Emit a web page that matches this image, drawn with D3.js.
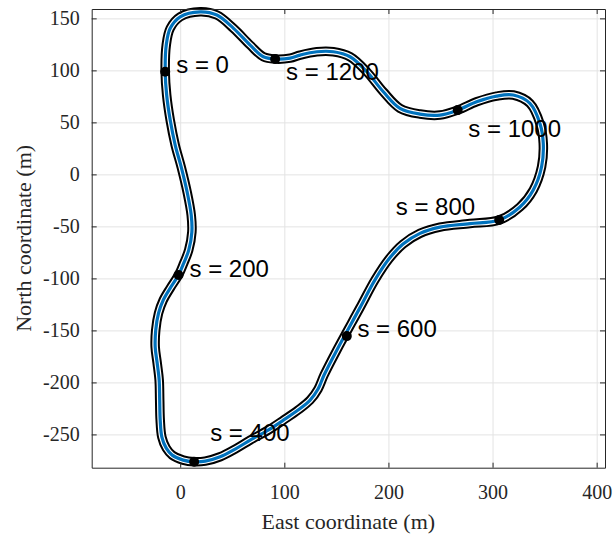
<!DOCTYPE html>
<html>
<head>
<meta charset="utf-8">
<script src="https://cdn.jsdelivr.net/npm/d3@7"></script>
<style>
  body { margin: 0; background: #fff; }
  .tick text { font-family: "Liberation Serif", serif; font-size: 20px; fill: #262626; }
  .axis path, .axis line { stroke: #262626; }
  .grid line { stroke: #e3e3e3; }
  .grid path { display: none; }
</style>
</head>
<body>
<svg id="chart" width="613" height="536"></svg>
<script>
// Track centreline (east, north) in metres, starting at s = 0
const east = [-14.4, -13, -9.6, -4.8, 1, 6.7, 10.6, 11.2, 8.2, 3.4, -1.6, -9.6, -16.3, -20.8, -23.5, -24, -22.1, -20.2, -19.7, -19.2, -17.6, -13.4, -7.7, 2.9, 13.4, 24, 38.4, 52.8, 67.2, 84.5, 99.1, 113.2, 124.8, 132.4, 138.2, 150.4, 172.7, 187.1, 200.6, 214, 230.3, 249.5, 278.3, 306.4, 326.3, 339.1, 347.1, 348.7, 345.5, 335.9, 319.9, 303.9, 284.7, 266.5, 249.5, 230.3, 211.1, 195.1, 179.2, 163.1, 147.1, 131.2, 115.2, 105.6, 91.2, 79.9, 67.2, 51.2, 35.2, 19.2, 0, -9.6, -13.4];
const north = [98.7, 76.3, 52.2, 28.2, 7.0, -17.1, -39.2, -55.5, -72.8, -85.3, -96.8, -109.4, -120.9, -133.4, -149.7, -166.1, -181.4, -197.8, -217, -236.3, -252.6, -263.2, -269.9, -274.7, -276.3, -275.7, -271.5, -264.1, -255.5, -245.9, -236.3, -226.6, -217, -206.4, -192.9, -169, -128.1, -101.4, -81.2, -67, -56.7, -50.7, -47.3, -43.9, -31.4, -15.1, 7.3, 29.8, 49, 68.3, 76.3, 75.3, 69.8, 61.8, 57, 58, 63.5, 79.4, 98.7, 113.1, 117.9, 117.9, 114.7, 111.8, 110.9, 113.1, 124.3, 140.4, 153.2, 156.3, 151.5, 140.4, 124.3];

// Distance markers along the track
const markerS = [0, 200, 400, 600, 800, 1000, 1200];
const markerEast = [-14.4, -1.6, 13.4, 160, 306.4, 266.5, 91.2];
const markerNorth = [98.7, -96.8, -276.3, -155.5, -43.9, 61.8, 110.9];
// where each label sits (left edge, baseline)
const labelEast = [-3.8, 8.9, 28.8, 170.2, 207, 276.7, 101.7];
const labelNorth = [97.4, -99, -256.4, -156.2, -39.1, 35.6, 90.7];

const xTicks = [0, 100, 200, 300, 400];
const yTicks = [-250, -200, -150, -100, -50, 0, 50, 100, 150];

const svg = d3.select("#chart");
const margin = {left: 91.7, right: 8, top: 9, bottom: 68.3};
const width = 613 - margin.left - margin.right;
const height = 536 - margin.top - margin.bottom;

const x = d3.scaleLinear().domain([-85, 408]).range([0, width]);
const y = d3.scaleLinear().domain([-282, 159]).range([height, 0]);

const g = svg.append("g").attr("transform", `translate(${margin.left},${margin.top})`);

// grid
g.append("g").attr("class", "grid")
    .attr("transform", `translate(0,${height})`)
    .call(d3.axisBottom(x).tickValues(xTicks).tickSize(-height).tickFormat(""));
g.append("g").attr("class", "grid")
    .call(d3.axisLeft(y).tickValues(yTicks).tickSize(-width).tickFormat(""));

// track: black borders, white surface, blue line
const pts = east.map((e, i) => [e, north[i]]);
const line = d3.line()
    .x(d => x(d[0]))
    .y(d => y(d[1]))
    .curve(d3.curveCatmullRomClosed);

g.append("path").datum(pts).attr("d", line)
    .attr("fill", "none").attr("stroke", "black").attr("stroke-width", 9.5);
g.append("path").datum(pts).attr("d", line)
    .attr("fill", "none").attr("stroke", "white").attr("stroke-width", 5.5);
g.append("path").datum(pts).attr("d", line)
    .attr("fill", "none").attr("stroke", "#0072BD").attr("stroke-width", 3.2);

// markers and labels
g.selectAll("circle.mark")
    .data(markerS)
    .enter()
    .append("circle")
    .attr("class", "mark")
    .attr("cx", (d, i) => x(markerEast[i]))
    .attr("cy", (d, i) => y(markerNorth[i]))
    .attr("r", 5)
    .attr("fill", "black");

g.selectAll("text.lab")
    .data(markerS)
    .enter()
    .append("text")
    .attr("class", "lab")
    .attr("x", (d, i) => x(labelEast[i]))
    .attr("y", (d, i) => y(labelNorth[i]))
    .attr("font-family", "Liberation Sans, Arial, sans-serif")
    .attr("font-size", 24)
    .attr("fill", "black")
    .text(d => "s = " + d);

// axes (ticks point inward, box on)
const fmt = d => String(d);
g.append("g").attr("class", "axis")
    .attr("transform", `translate(0,${height})`)
    .call(d3.axisBottom(x).tickValues(xTicks).tickFormat(fmt).tickSize(-5).tickSizeOuter(0).tickPadding(17));
g.append("g").attr("class", "axis")
    .call(d3.axisLeft(y).tickValues(yTicks).tickFormat(fmt).tickSize(-5).tickSizeOuter(0).tickPadding(12));
g.append("g").attr("class", "axis")
    .call(d3.axisTop(x).tickValues(xTicks).tickSize(-5).tickSizeOuter(0).tickFormat(""));
g.append("g").attr("class", "axis")
    .attr("transform", `translate(${width},0)`)
    .call(d3.axisRight(y).tickValues(yTicks).tickSize(-5).tickSizeOuter(0).tickFormat(""));

// axis titles
svg.append("text")
    .attr("x", margin.left + width / 2)
    .attr("y", 529)
    .attr("text-anchor", "middle")
    .attr("font-family", "Liberation Serif, serif")
    .attr("font-size", 22)
    .attr("fill", "#262626")
    .text("East coordinate (m)");

svg.append("text")
    .attr("transform", `translate(31,${margin.top + height / 2}) rotate(-90)`)
    .attr("text-anchor", "middle")
    .attr("font-family", "Liberation Serif, serif")
    .attr("font-size", 22)
    .attr("fill", "#262626")
    .text("North coordinate (m)");
</script>
</body>
</html>
